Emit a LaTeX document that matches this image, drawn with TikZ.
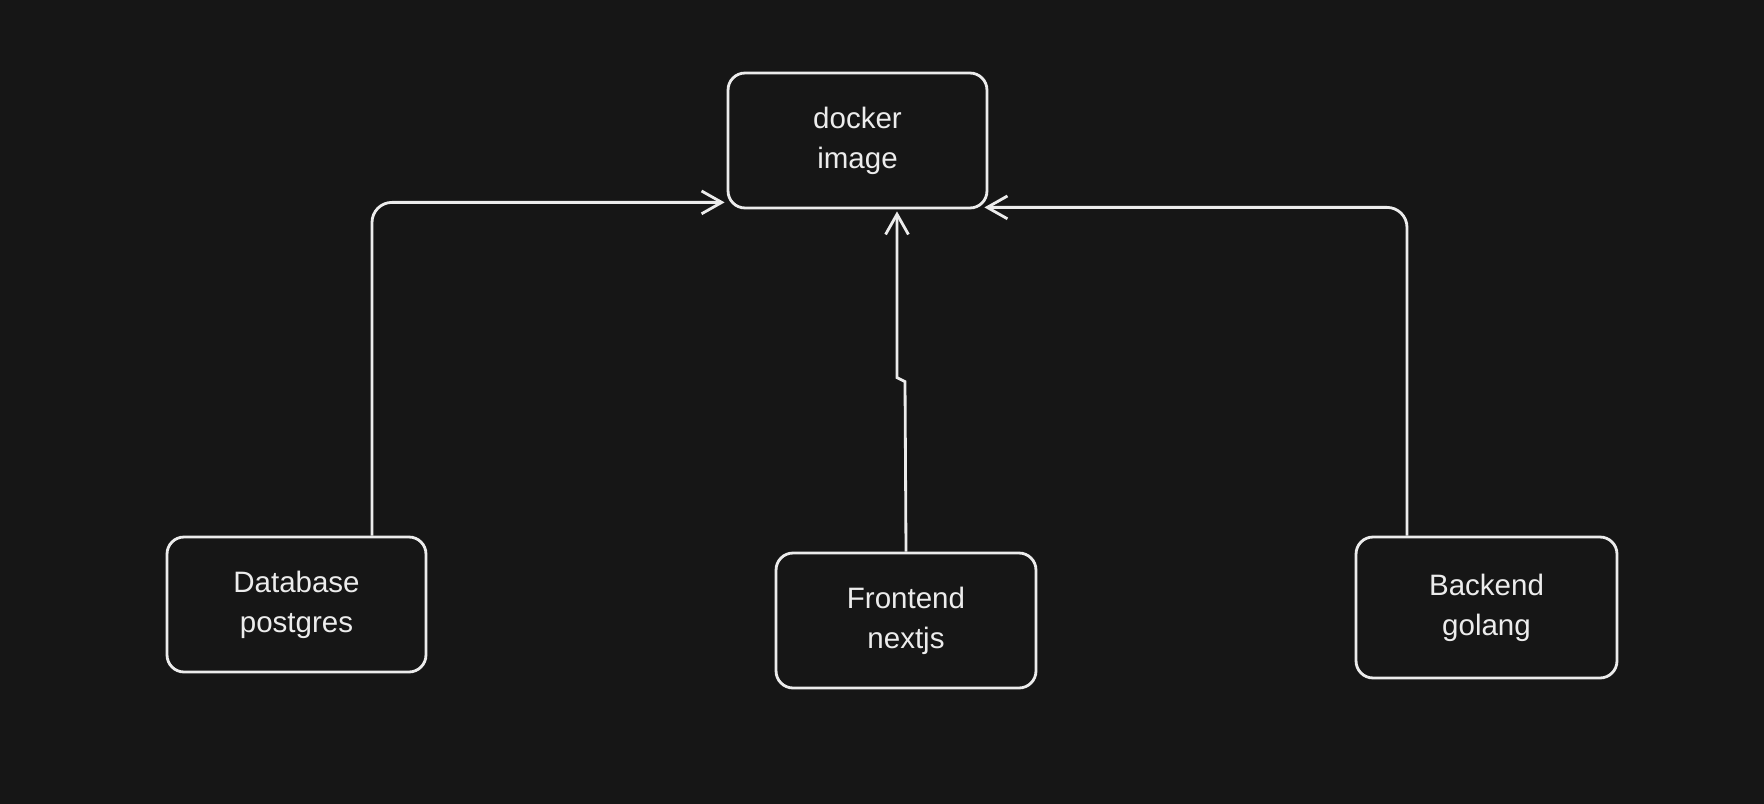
\documentclass[tikz,border=0pt]{standalone}
\usepackage{fontspec}
\setmainfont{Liberation Sans}
\usetikzlibrary{arrows.meta,calc,positioning}
\definecolor{bgdark}{HTML}{161616}
\definecolor{inkwhite}{HTML}{ECECEC}

\begin{document}
\begin{tikzpicture}[x=0.02cm, y=-0.02cm,
	boxy/.style={draw=inkwhite,line width=1.6pt,rounded corners=0.34cm,
	minimum width=5.18cm,minimum height=2.7cm,text=inkwhite,align=center,
	font=\fontsize{16.8}{22.8}\selectfont},
	link/.style={draw=inkwhite,line width=1.6pt,rounded corners=0.4cm,
	-{Straight Barb[length=11.5pt,width=13pt,line width=1.6pt]}}]
\fill[bgdark] (0,0) rectangle (1764,804);
\useasboundingbox (0,0) rectangle (1764,804);
\node[boxy] (dock) at (857.5, 140.5) {docker\\image};
\node[boxy] (db) at (296.5, 604.5) {Database\\postgres};
\node[boxy,minimum width=5.2cm] (fe) at (906, 620.5) {Frontend\\nextjs};
\node[boxy,minimum width=5.22cm,minimum height=2.82cm] (be) at (1486.5, 607.5) {Backend\\golang};
\coordinate (dbup) at ($(db.north)+(75.5,0)$);
\coordinate (beup) at ($(be.north)+(-79.5,0)$);
\draw[link] (dbup) |- ($(dock.south west)+(-2,-7)$);
\draw[link] (beup) |- ($(dock.south east)+(-4,-2)$);
\draw[link,rounded corners=0pt] (fe.north) -- ++(-1,-170) -- ++(-8,-4)
	-- ($(dock.south)+(39.5,2)$);
\end{tikzpicture}
\end{document}
